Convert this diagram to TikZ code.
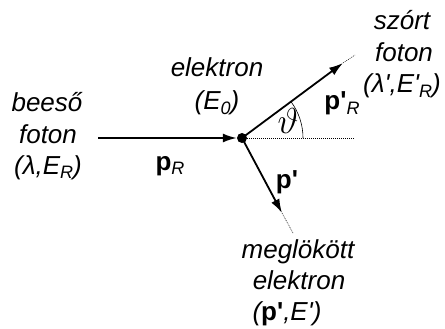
\documentclass[tikz,border=0pt]{standalone}
\usepackage{fontspec}
\setmainfont{Liberation Sans}
\usetikzlibrary{arrows.meta,calc}
\newcommand{\lsub}[1]{\raisebox{-5pt}{\fontsize{18}{18}\selectfont\mdseries\itshape #1}}
\newcommand{\pr}{\textquotesingle}
\begin{document}
\begin{tikzpicture}[x=1pt,y=-1pt,
  lbl/.style={anchor=base,inner sep=0pt,font=\fontsize{26}{31}\selectfont\itshape},
  blbl/.style={lbl,font=\fontsize{26}{31}\selectfont\bfseries},
  vec/.style={line width=1.8pt,-{Latex[length=14pt,width=9pt]}},
  thin dot/.style={line width=0.5pt,dash pattern=on 1pt off 1pt}]
\useasboundingbox (0,0) rectangle (445,329);
\node[circle,fill,inner sep=0pt,minimum size=10pt] (e) at (242,138) {};
\coordinate (in) at (98,138);
\coordinate (ph) at (343,63);
\coordinate (phe) at (355,55);
\coordinate (el) at (282,213);
\coordinate (ele) at (293,233);
\coordinate (hz) at (355,138);
\draw[vec] (in) -- (e.west);
\draw[vec] (e.center) -- (ph);
\draw[thin dot] (ph) -- (phe);
\draw[vec] (e.center) -- (el);
\draw[thin dot] (el) -- (ele);
\draw[thin dot] (e.east) -- (hz);
\draw[line width=0.6pt] ($(e.center)+(61,0)$) arc[start angle=0,end angle=-36.5,radius=61];
\node[lbl] (b1) at (47,112) {beeső};
\node[lbl] (b2) at (48,143) {foton};
\node[lbl] (b3) at (48,174) {(λ,E\lsub{R})};
\node[lbl] (e1) at (217,77) {elektron};
\node[lbl] (e2) at (217,110) {(E\lsub{0})};
\node[lbl] (s1) at (402,30) {szórt};
\node[lbl] (s2) at (404,62) {foton};
\node[lbl] (s3) at (402,93) {(λ\pr,E\pr\lsub{R})};
\node[lbl] (m1) at (298,258) {meglökött};
\node[lbl] (m2) at (299,289) {elektron};
\node[lbl] (m3) at (287,320) {(\textbf{\upshape p\pr},E\pr)};
\node[blbl] (pR) at (170,170) {p\lsub{R}};
\node[blbl] (pp) at (287,188) {p\pr};
\node[blbl] (ppR) at (342,110) {p\pr\lsub{R}};
\node[lbl] (th) at (288,134) {\scalebox{1.45}{$\vartheta$}};
\end{tikzpicture}
\end{document}
